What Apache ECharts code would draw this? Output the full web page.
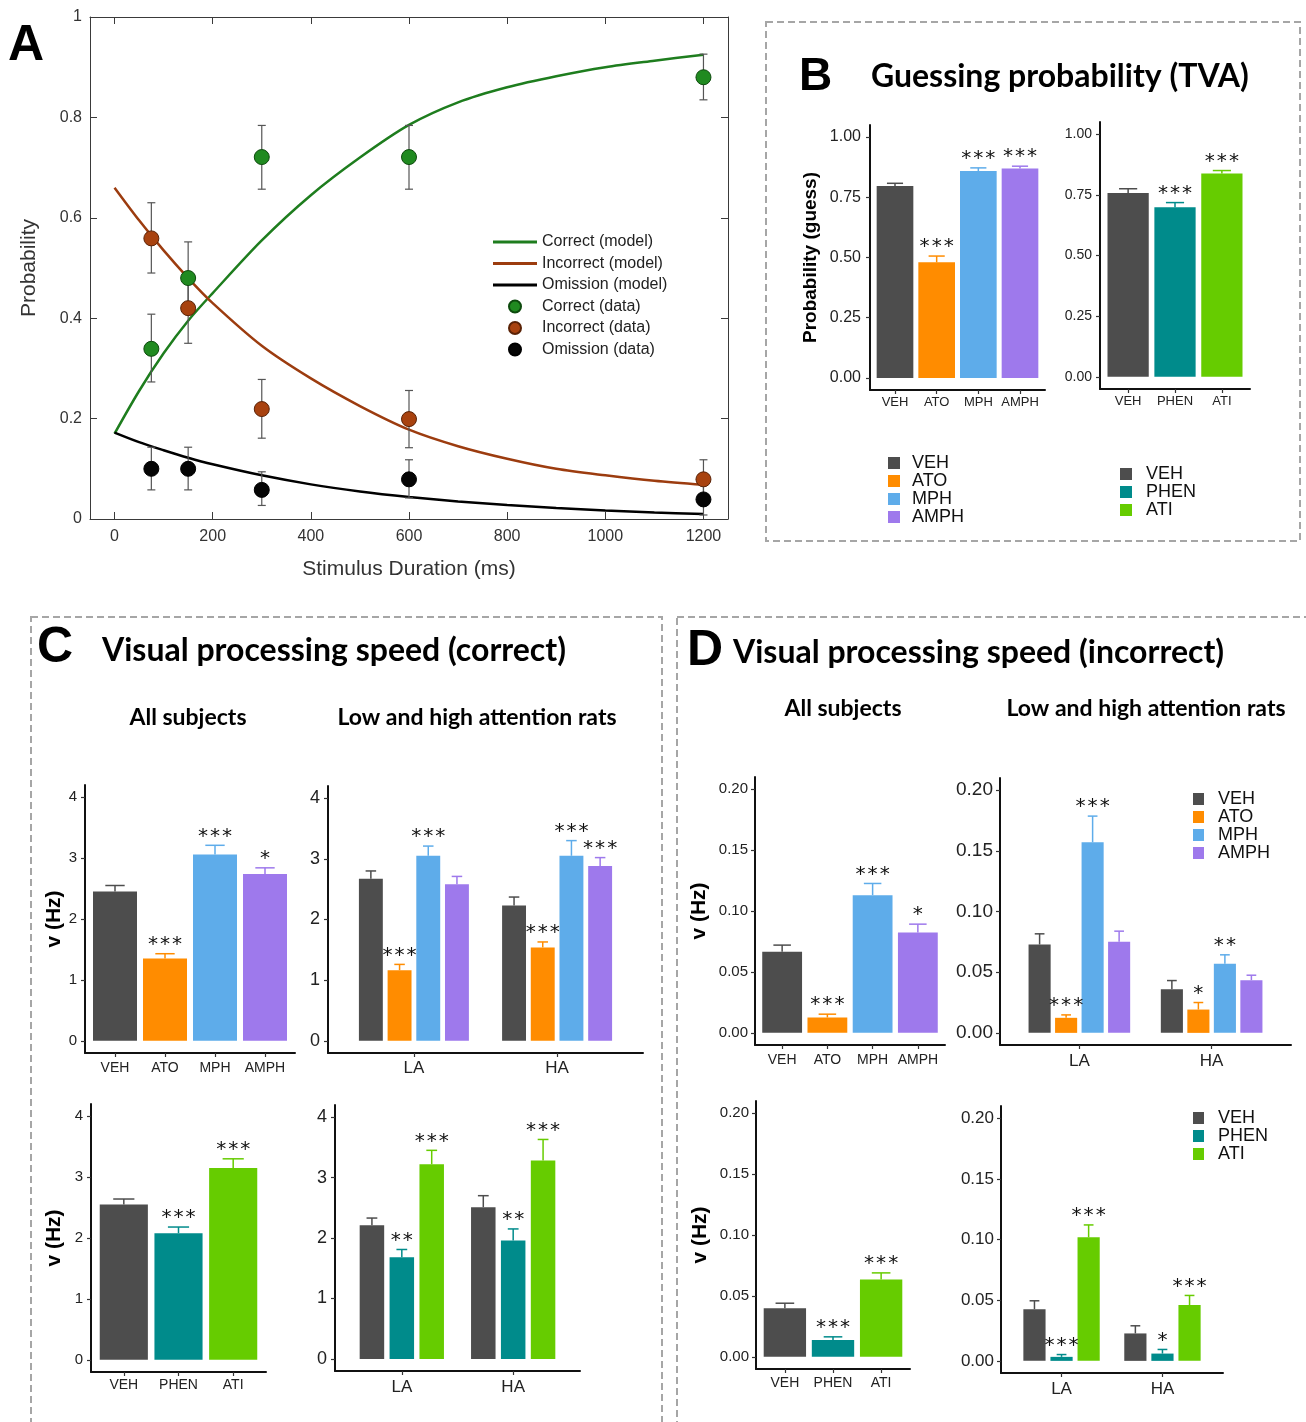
<!DOCTYPE html>
<html>
<head>
<meta charset="utf-8">
<script src="https://cdn.jsdelivr.net/npm/echarts@6.0.0/dist/echarts.min.js"></script>
<style>
html, body { margin: 0; padding: 0; background: #fff; }
#main { width: 1306px; height: 1422px; }
</style>
</head>
<body>
<div id="main"></div>
<script>
// ---- panel A: TVA model fit ----
var durations = [75, 150, 300, 600, 1200];
var correctData = [0.339, 0.48, 0.721, 0.721, 0.88];
var correctLo = [0.273, 0.41, 0.657, 0.657, 0.835];
var correctHi = [0.408, 0.552, 0.784, 0.784, 0.926];
var incorrectData = [0.559, 0.42, 0.219, 0.199, 0.079];
var incorrectLo = [0.49, 0.35, 0.161, 0.142, 0.04];
var incorrectHi = [0.63, 0.49, 0.278, 0.256, 0.118];
var omissionData = [0.1, 0.1, 0.058, 0.079, 0.039];
var omissionLo = [0.058, 0.058, 0.027, 0.042, 0.008];
var omissionHi = [0.143, 0.143, 0.094, 0.118, 0.07];
var modelX = [0, 50, 100, 150, 200, 300, 400, 500, 600, 700, 800, 900, 1000, 1100, 1200];
var correctModel = [0.17, 0.255, 0.33, 0.395, 0.45, 0.555, 0.645, 0.72, 0.785, 0.83, 0.86, 0.882, 0.9, 0.913, 0.925];
var incorrectModel = [0.66, 0.595, 0.535, 0.48, 0.43, 0.345, 0.28, 0.225, 0.178, 0.145, 0.12, 0.1, 0.087, 0.076, 0.068];
var omissionModel = [0.172, 0.153, 0.137, 0.122, 0.109, 0.087, 0.069, 0.055, 0.044, 0.035, 0.028, 0.022, 0.017, 0.013, 0.01];
var durationTicks = [0, 200, 400, 600, 800, 1000, 1200];

// ---- bar panels ----
var drugsA = ['VEH', 'ATO', 'MPH', 'AMPH'];
var drugsB = ['VEH', 'PHEN', 'ATI'];
var attnGroups = ['LA', 'HA'];
var guessTicks = [0, 0.25, 0.5, 0.75, 1];
var vCorrTicks = [0, 1, 2, 3, 4];
var vIncTicks = [0, 0.05, 0.1, 0.15, 0.2];

// B: guessing probability
var guessA = [0.797, 0.48, 0.859, 0.869];
var guessAErr = [0.011, 0.026, 0.013, 0.010];
var guessASig = ['', '***', '***', '***'];
var guessB = [0.758, 0.699, 0.838];
var guessBErr = [0.017, 0.019, 0.012];
var guessBSig = ['', '***', '***'];

// C: processing speed, correct
var vCorrA = [2.45, 1.35, 3.06, 2.74];
var vCorrAErr = [0.10, 0.08, 0.15, 0.10];
var vCorrASig = ['', '***', '***', '*'];
var vCorrALA = [2.67, 1.165, 3.05, 2.58];
var vCorrALAErr = [0.13, 0.095, 0.16, 0.13];
var vCorrALASig = ['', '***', '***', ''];
var vCorrAHA = [2.23, 1.54, 3.05, 2.88];
var vCorrAHAErr = [0.14, 0.09, 0.25, 0.14];
var vCorrAHASig = ['', '***', '***', '***'];
var vCorrB = [2.55, 2.08, 3.15];
var vCorrBErr = [0.09, 0.10, 0.15];
var vCorrBSig = ['', '***', '***'];
var vCorrBLA = [2.21, 1.68, 3.22];
var vCorrBLAErr = [0.12, 0.13, 0.23];
var vCorrBLASig = ['', '**', '***'];
var vCorrBHA = [2.51, 1.96, 3.28];
var vCorrBHAErr = [0.19, 0.19, 0.35];
var vCorrBHASig = ['', '**', '***'];

// D: processing speed, incorrect
var vIncA = [0.0665, 0.0126, 0.113, 0.0824];
var vIncAErr = [0.0055, 0.0027, 0.0096, 0.0068];
var vIncASig = ['', '***', '***', '*'];
var vIncALA = [0.0728, 0.0124, 0.157, 0.075];
var vIncALAErr = [0.0088, 0.0024, 0.0216, 0.0088];
var vIncALASig = ['', '***', '***', ''];
var vIncAHA = [0.036, 0.0192, 0.0569, 0.0434];
var vIncAHAErr = [0.0071, 0.0058, 0.0074, 0.0041];
var vIncAHASig = ['', '*', '**', ''];
var vIncB = [0.0399, 0.0139, 0.0634];
var vIncBErr = [0.0041, 0.0025, 0.0055];
var vIncBSig = ['', '***', '***'];
var vIncBLA = [0.0426, 0.0033, 0.1018];
var vIncBLAErr = [0.0069, 0.0019, 0.0102];
var vIncBLASig = ['', '***', '***'];
var vIncBHA = [0.0226, 0.006, 0.046];
var vIncBHAErr = [0.0063, 0.0034, 0.0079];
var vIncBHASig = ['', '*', '***'];

var FONT = '"Liberation Sans", Arial, sans-serif';
var TITLE_FONT = 'Lato, "Open Sans", sans-serif';
var STAR_FONT = '"DejaVu Sans Mono", monospace';
var drugColor = { VEH: '#4d4d4d', ATO: '#ff8c00', MPH: '#5eacea', AMPH: '#9e79ec', PHEN: '#008b8b', ATI: '#66cc00' };

var option = { animation: false, backgroundColor: '#fff', grid: [], xAxis: [], yAxis: [], series: [], legend: [], graphic: [] };

function addGrid(box) {
	option.grid.push({ left: box[0], top: box[1], width: box[2] - box[0], height: box[3] - box[1], containLabel: false, outerBoundsMode: 'none' });
	return option.grid.length - 1;
}

// ===== panel A =====
var gA = addGrid([90, 17, 728, 519]);
var boxLine = { show: true, onZero: false, lineStyle: { color: '#3a3a3a', width: 1 } };
var inTick = { show: true, inside: true, length: 7, lineStyle: { color: '#3a3a3a' } };
option.xAxis.push({
	type: 'value', gridIndex: gA, position: 'bottom', min: -50, max: 1250,
	axisLine: boxLine, axisTick: Object.assign({ customValues: durationTicks }, inTick),
	axisLabel: { customValues: durationTicks, fontSize: 16, color: '#333', margin: 10, fontFamily: FONT,
		formatter: function (v) { return String(v); } },
	splitLine: { show: false },
	name: 'Stimulus Duration (ms)', nameLocation: 'middle', nameGap: 40,
	nameTextStyle: { fontSize: 21, color: '#333', fontFamily: FONT }
});
option.xAxis.push({
	type: 'value', gridIndex: gA, position: 'top', min: -50, max: 1250,
	axisLine: boxLine, axisTick: Object.assign({ customValues: durationTicks }, inTick),
	axisLabel: { show: false }, splitLine: { show: false }
});
option.yAxis.push({
	type: 'value', gridIndex: gA, position: 'left', min: 0, max: 1, interval: 0.2,
	axisLine: boxLine, axisTick: inTick,
	axisLabel: { fontSize: 16, color: '#333', margin: 8, fontFamily: FONT },
	splitLine: { show: false },
	name: 'Probability', nameLocation: 'middle', nameGap: 50,
	nameTextStyle: { fontSize: 21, color: '#333', fontFamily: FONT }
});
option.yAxis.push({
	type: 'value', gridIndex: gA, position: 'right', min: 0, max: 1, interval: 0.2,
	axisLine: boxLine, axisTick: inTick, axisLabel: { show: false }, splitLine: { show: false }
});

function modelLine(name, ys, color) {
	return {
		type: 'line', name: name, xAxisIndex: 0, yAxisIndex: 0, z: 2, smooth: 0.3, symbol: 'none',
		data: modelX.map(function (x, i) { return [x, ys[i]]; }),
		lineStyle: { color: color, width: 2.5 }, itemStyle: { color: color }
	};
}
function dataErr(lo, hi) {
	return {
		type: 'custom', xAxisIndex: 0, yAxisIndex: 0, z: 3, silent: true,
		data: durations.map(function (x, i) { return [x, lo[i], hi[i]]; }),
		renderItem: function (params, api) {
			var a = api.coord([api.value(0), api.value(1)]);
			var b = api.coord([api.value(0), api.value(2)]);
			var st = { stroke: '#555', lineWidth: 1.2 };
			return { type: 'group', children: [
				{ type: 'line', shape: { x1: a[0], y1: a[1], x2: b[0], y2: b[1] }, style: st },
				{ type: 'line', shape: { x1: a[0] - 4, y1: a[1], x2: a[0] + 4, y2: a[1] }, style: st },
				{ type: 'line', shape: { x1: b[0] - 4, y1: b[1], x2: b[0] + 4, y2: b[1] }, style: st }
			] };
		}
	};
}
function dataPoints(name, ys, fill, edge) {
	return {
		type: 'scatter', name: name, xAxisIndex: 0, yAxisIndex: 0, z: 4, symbolSize: 15,
		data: durations.map(function (x, i) { return [x, ys[i]]; }),
		itemStyle: { color: fill, borderColor: edge, borderWidth: 1, opacity: 1 }
	};
}
option.series.push(
	modelLine('Correct (model)', correctModel, '#1e7d1e'),
	modelLine('Incorrect (model)', incorrectModel, '#9c3c0f'),
	modelLine('Omission (model)', omissionModel, '#000'),
	dataErr(correctLo, correctHi), dataErr(incorrectLo, incorrectHi), dataErr(omissionLo, omissionHi),
	dataPoints('Correct (data)', correctData, '#208a20', '#0d4a0d'),
	dataPoints('Incorrect (data)', incorrectData, '#a8420f', '#5a2206'),
	dataPoints('Omission (data)', omissionData, '#050505', '#000')
);
var lineIcon = 'path://M0,0H44V3H0Z';
option.legend.push({
	left: 493, top: 234, orient: 'vertical', padding: 0, itemWidth: 44, itemHeight: 12, itemGap: 5.5,
	selectedMode: false, textStyle: { fontSize: 16, color: '#222', fontFamily: FONT },
	data: [
		{ name: 'Correct (model)', icon: lineIcon }, { name: 'Incorrect (model)', icon: lineIcon }, { name: 'Omission (model)', icon: lineIcon },
		{ name: 'Correct (data)', icon: 'circle' }, { name: 'Incorrect (data)', icon: 'circle' }, { name: 'Omission (data)', icon: 'circle' }
	]
});

// ===== bar panels =====
function catAxis(g, names, size, margin) {
	var idx = names.map(function (n, i) { return i; });
	return {
		type: 'value', gridIndex: g, min: -0.6, max: names.length - 0.4,
		axisLine: { show: true, onZero: false, lineStyle: { color: '#111', width: 2 } },
		axisTick: { show: true, length: 4, customValues: idx, lineStyle: { color: '#333', width: 1.2 } },
		axisLabel: { customValues: idx, fontSize: size, margin: margin, color: '#222', fontFamily: FONT,
			formatter: function (v) { return names[Math.round(v)]; } },
		splitLine: { show: false }
	};
}
function valAxis(g, p) {
	return {
		type: 'value', gridIndex: g, min: p.lo, max: p.hi,
		axisLine: { show: true, onZero: false, lineStyle: { color: '#111', width: 2 } },
		axisTick: { show: true, length: 4, customValues: p.ticks, lineStyle: { color: '#333', width: 1.2 } },
		axisLabel: { customValues: p.ticks, fontSize: p.ySize, margin: p.yMargin, color: '#222', fontFamily: FONT,
			formatter: function (v) { return v.toFixed(p.dec); } },
		splitLine: { show: false },
		name: p.name || '', nameLocation: 'middle', nameGap: p.gap || 0,
		nameTextStyle: { fontSize: p.nameSize || 21, fontWeight: 'bold', color: '#000', fontFamily: FONT }
	};
}
function errSeries(ai, points, off, bw, colors, sigs) {
	return {
		type: 'custom', xAxisIndex: ai, yAxisIndex: ai, z: 3, silent: true, data: points,
		renderItem: function (params, api) {
			var i = params.dataIndex;
			var x = api.value(0) + off, m = api.value(1), e = api.value(2);
			var p0 = api.coord([x, m]), p1 = api.coord([x, m + e]);
			var half = api.size([bw, 0])[0] * 0.22;
			var st = { stroke: colors[i], lineWidth: 1.5 };
			var kids = [
				{ type: 'line', shape: { x1: p0[0], y1: p0[1], x2: p1[0], y2: p1[1] }, style: st },
				{ type: 'line', shape: { x1: p1[0] - half, y1: p1[1], x2: p1[0] + half, y2: p1[1] }, style: st }
			];
			if (sigs[i]) {
				kids.push({ type: 'text', x: p1[0], y: p1[1] + 1, style: {
					text: sigs[i], fontSize: 20, fontFamily: STAR_FONT, fill: '#111',
					align: 'center', verticalAlign: 'bottom', textAlign: 'center', textVerticalAlign: 'bottom' } });
			}
			return { type: 'group', children: kids };
		}
	};
}
function singleBars(box, cats, vals, errs, sigs, p) {
	var g = addGrid(box);
	option.xAxis.push(catAxis(g, cats, p.xSize, p.xMargin));
	option.yAxis.push(valAxis(g, p));
	var ai = option.xAxis.length - 1;
	option.series.push({
		type: 'bar', name: 'bars-' + g, xAxisIndex: ai, yAxisIndex: ai, barWidth: '88%', z: 2,
		data: cats.map(function (c, i) { return { value: [i, vals[i]], itemStyle: { color: drugColor[c] } }; })
	});
	option.series.push(errSeries(ai, cats.map(function (c, i) { return [i, vals[i], errs[i]]; }), 0, 0.88,
		cats.map(function (c) { return drugColor[c]; }), sigs));
}
function groupedBars(box, drugs, vals, errs, sigs, bw, gap, p) {
	var g = addGrid(box);
	option.xAxis.push(catAxis(g, attnGroups, p.xSize, p.xMargin));
	option.yAxis.push(valAxis(g, p));
	var ai = option.xAxis.length - 1;
	var step = bw * (1 + gap);
	drugs.forEach(function (d, k) {
		var off = (k - (drugs.length - 1) / 2) * step;
		option.series.push({
			type: 'bar', name: d, xAxisIndex: ai, yAxisIndex: ai, z: 2,
			barWidth: (bw * 100) + '%', barGap: (gap * 100) + '%', itemStyle: { color: drugColor[d] },
			data: attnGroups.map(function (gn, j) { return [j, vals[j][k]]; })
		});
		option.series.push(errSeries(ai, attnGroups.map(function (gn, j) { return [j, vals[j][k], errs[j][k]]; }), off, bw,
			attnGroups.map(function () { return drugColor[d]; }),
			attnGroups.map(function (gn, j) { return sigs[j][k]; })));
	});
}

var pGuess = { lo: -0.05, hi: 1.05, ticks: guessTicks, dec: 2, xSize: 13, xMargin: 6 };
singleBars([870, 125, 1045, 390], drugsA, guessA, guessAErr, guessASig,
	Object.assign({ ySize: 16, yMargin: 9, name: 'Probability (guess)', gap: 50, nameSize: 19 }, pGuess));
singleBars([1100, 122, 1250, 389], drugsB, guessB, guessBErr, guessBSig,
	Object.assign({ ySize: 14, yMargin: 8 }, pGuess));

var pCorr = { lo: -0.2, hi: 4.2, ticks: vCorrTicks, dec: 0 };
singleBars([85, 785, 295, 1053], drugsA, vCorrA, vCorrAErr, vCorrASig,
	Object.assign({ ySize: 15, yMargin: 8, xSize: 14, xMargin: 8, name: 'v (Hz)', gap: 9 }, pCorr));
groupedBars([328, 786, 643, 1053], drugsA, [vCorrALA, vCorrAHA], [vCorrALAErr, vCorrAHAErr], [vCorrALASig, vCorrAHASig], 0.167, 0.2,
	Object.assign({ ySize: 18, yMargin: 8, xSize: 17, xMargin: 7 }, pCorr));
singleBars([91, 1104, 266, 1372], drugsB, vCorrB, vCorrBErr, vCorrBSig,
	Object.assign({ ySize: 15, yMargin: 8, xSize: 14, xMargin: 6, name: 'v (Hz)', gap: 26 }, pCorr));
groupedBars([335, 1105, 580, 1371], drugsB, [vCorrBLA, vCorrBHA], [vCorrBLAErr, vCorrBHAErr], [vCorrBLASig, vCorrBHASig], 0.22, 0.22,
	Object.assign({ ySize: 18, yMargin: 8, xSize: 17, xMargin: 8 }, pCorr));

var pInc = { lo: -0.01, hi: 0.21, ticks: vIncTicks, dec: 2 };
singleBars([755, 777, 945, 1045], drugsA, vIncA, vIncAErr, vIncASig,
	Object.assign({ ySize: 15, yMargin: 7, xSize: 14, xMargin: 8, name: 'v (Hz)', gap: 45 }, pInc));
groupedBars([1000, 778, 1291, 1045], drugsA, [vIncALA, vIncAHA], [vIncALAErr, vIncAHAErr], [vIncALASig, vIncAHASig], 0.167, 0.2,
	Object.assign({ ySize: 19, yMargin: 7, xSize: 17, xMargin: 8 }, pInc));
singleBars([756, 1101, 910, 1369], drugsB, vIncB, vIncBErr, vIncBSig,
	Object.assign({ ySize: 15, yMargin: 7, xSize: 14, xMargin: 7, name: 'v (Hz)', gap: 45 }, pInc));
groupedBars([1001, 1106, 1223, 1373], drugsB, [vIncBLA, vIncBHA], [vIncBLAErr, vIncBHAErr], [vIncBLASig, vIncBHASig], 0.22, 0.22,
	Object.assign({ ySize: 17, yMargin: 7, xSize: 17, xMargin: 8 }, pInc));

// legends for the bar panels
function boxLegend(left, top, names, iconW, pad) {
	option.legend.push({
		left: left, top: top, orient: 'vertical', padding: 0, itemWidth: iconW, itemHeight: 12, itemGap: 0,
		icon: 'rect', selectedMode: false, data: names,
		textStyle: { fontSize: 18, color: '#111', fontFamily: FONT, padding: [0, 0, 0, pad] }
	});
}
boxLegend(888, 454, drugsA, 12, 7);
boxLegend(1120, 465, drugsB, 12, 9);
boxLegend(1193, 790, drugsA, 11, 9);
boxLegend(1193, 1109, drugsB, 11, 9);

// frames, panel letters and titles
function dashedBox(x, y, w, h) {
	return { type: 'rect', silent: true, z: 0, shape: { x: x, y: y, width: w, height: h },
		style: { fill: 'none', stroke: '#a6a6a6', lineWidth: 2, lineDash: [7, 4] } };
}
function label(x, y, text, font, align) {
	return { type: 'text', silent: true, x: x, y: y,
		style: { text: text, font: font, fill: '#000', align: align || 'left', verticalAlign: 'middle',
			textAlign: align || 'left', textVerticalAlign: 'middle' } };
}
var letterFont = 'bold 50px ' + FONT;
var titleFont = 'bold 32px ' + TITLE_FONT;
var subFont = 'bold 23px ' + TITLE_FONT;
option.graphic = [
	dashedBox(766, 22, 534, 519),
	dashedBox(31, 617, 631, 840),
	dashedBox(677, 617, 660, 840),
	label(8, 46, 'A', letterFont),
	label(799, 77, 'B', 'bold 46px ' + FONT),
	label(37, 648, 'C', letterFont),
	label(687, 651, 'D', letterFont),
	label(871, 77, 'Guessing probability (TVA)', titleFont),
	label(102, 651, 'Visual processing speed (correct)', titleFont),
	label(733, 653, 'Visual processing speed (incorrect)', titleFont),
	label(188, 718, 'All subjects', subFont, 'center'),
	label(477, 718, 'Low and high attention rats', subFont, 'center'),
	label(843, 709, 'All subjects', subFont, 'center'),
	label(1146, 709, 'Low and high attention rats', subFont, 'center')
];

var chart = echarts.init(document.getElementById('main'));
chart.setOption(option);
</script>
</body>
</html>
